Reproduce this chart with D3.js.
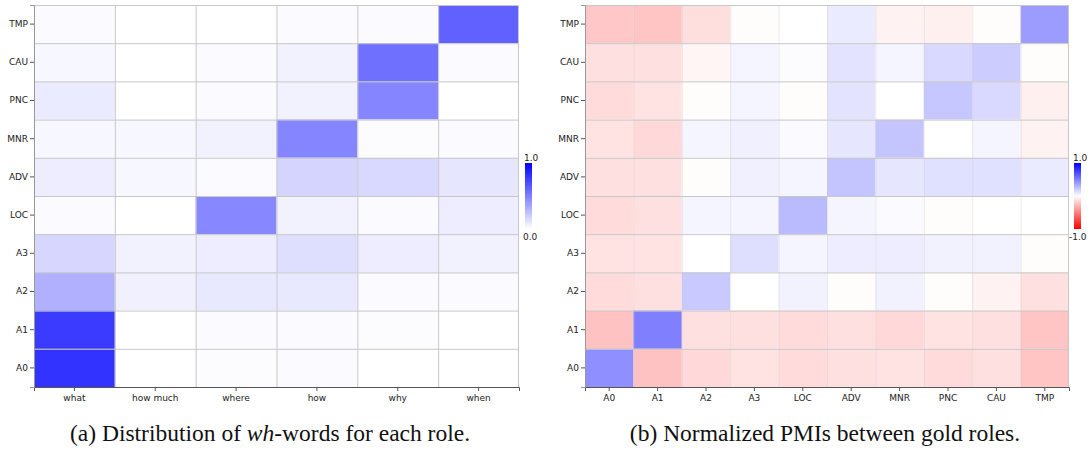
<!DOCTYPE html>
<html>
<head>
<meta charset="utf-8">
<script src="https://cdn.jsdelivr.net/npm/d3@7"></script>
<style>
  body { margin: 0; background: #fff; }
  .tick text { font-family: "DejaVu Sans", sans-serif; font-size: 9px; fill: #222; }
  .cb-label { font-family: "DejaVu Sans", sans-serif; font-size: 9px; fill: #222; }
</style>
</head>
<body>
<svg id="chart" width="1089" height="450"></svg>
<script>
// rows listed top to bottom as they appear
const roleRows = ["TMP", "CAU", "PNC", "MNR", "ADV", "LOC", "A3", "A2", "A1", "A0"];
const whWords = ["what", "how much", "where", "how", "why", "when"];
const goldRoles = ["A0", "A1", "A2", "A3", "LOC", "ADV", "MNR", "PNC", "CAU", "TMP"];

// (a) wh-word distribution, one row per role (same order as roleRows)
const whDist = [
  [0.02, 0.00, 0.00, 0.02, 0.02, 0.62],
  [0.03, 0.00, 0.02, 0.05, 0.56, 0.02],
  [0.08, 0.00, 0.02, 0.05, 0.48, 0.00],
  [0.03, 0.03, 0.05, 0.48, 0.01, 0.02],
  [0.07, 0.03, 0.02, 0.17, 0.15, 0.10],
  [0.02, 0.00, 0.47, 0.05, 0.02, 0.07],
  [0.16, 0.05, 0.07, 0.13, 0.07, 0.05],
  [0.31, 0.06, 0.09, 0.09, 0.02, 0.02],
  [0.77, 0.00, 0.02, 0.02, 0.01, 0.00],
  [0.80, 0.00, 0.01, 0.02, 0.00, 0.00]
];

// (b) normalized PMI, one row per role (same order as roleRows), columns = goldRoles
const npmi = [
  [-0.22, -0.23, -0.13, -0.01, 0.00, 0.08, -0.05, -0.06, -0.01, 0.39],
  [-0.12, -0.12, -0.04, 0.04, 0.01, 0.11, 0.04, 0.15, 0.20, -0.01],
  [-0.14, -0.11, -0.01, 0.04, -0.01, 0.11, 0.00, 0.22, 0.15, -0.06],
  [-0.11, -0.15, 0.04, 0.06, 0.02, 0.10, 0.23, 0.00, 0.04, -0.05],
  [-0.12, -0.12, -0.01, 0.06, 0.04, 0.23, 0.10, 0.12, 0.12, 0.08],
  [-0.14, -0.12, 0.04, 0.04, 0.27, 0.04, 0.02, -0.01, 0.00, 0.00],
  [-0.11, -0.11, 0.00, 0.13, 0.04, 0.07, 0.07, 0.05, 0.05, -0.01],
  [-0.14, -0.12, 0.21, 0.00, 0.05, -0.01, 0.05, -0.01, -0.05, -0.12],
  [-0.24, 0.50, -0.12, -0.12, -0.14, -0.12, -0.15, -0.11, -0.12, -0.23],
  [0.44, -0.24, -0.15, -0.11, -0.14, -0.12, -0.11, -0.14, -0.12, -0.23]
];

const svg = d3.select("#chart");
const defs = svg.append("defs");

function heatmap(opts) {
  const g = svg.append("g");
  const x = d3.scaleBand().domain(opts.cols).range([opts.x0, opts.x1]);
  const y = d3.scaleBand().domain(roleRows).range([opts.y0, opts.y1]);

  opts.data.forEach((row, i) => {
    g.selectAll(null)
      .data(row)
      .enter().append("rect")
      .attr("x", (d, j) => x(opts.cols[j]))
      .attr("y", y(roleRows[i]))
      .attr("width", x.bandwidth())
      .attr("height", y.bandwidth())
      .attr("fill", d => opts.color(d));
  });

  // grid lines
  g.selectAll("line.h")
    .data(roleRows)
    .enter().append("line")
    .attr("x1", opts.x0).attr("x2", opts.x1)
    .attr("y1", d => y(d) + 0.5).attr("y2", d => y(d) + 0.5)
    .attr("stroke", "#c8c8c8").attr("stroke-width", 1);
  g.selectAll("line.v")
    .data(opts.cols.slice(1).concat([null]))
    .enter().append("line")
    .attr("x1", d => d ? x(d) + 0.5 : opts.x1 - 0.5)
    .attr("x2", d => d ? x(d) + 0.5 : opts.x1 - 0.5)
    .attr("y1", opts.y0).attr("y2", opts.y1)
    .attr("stroke", d => d ? opts.vgrid : "#c8c8c8").attr("stroke-width", 1);

  const xAxis = g.append("g")
    .attr("transform", `translate(0, ${opts.y1})`)
    .call(d3.axisBottom(x).tickSize(4).tickPadding(4));
  const yAxis = g.append("g")
    .attr("transform", `translate(${opts.x0}, 0)`)
    .call(d3.axisLeft(y).tickSize(4).tickPadding(2));
  xAxis.select(".domain").attr("stroke", "#555");
  yAxis.select(".domain").attr("stroke", "#999");
  g.selectAll(".tick line").attr("stroke", "#555");

  // colour bar
  const gid = "grad" + opts.id;
  const grad = defs.append("linearGradient").attr("id", gid)
    .attr("x1", 0).attr("y1", 1).attr("x2", 0).attr("y2", 0);
  opts.stops.forEach(s => grad.append("stop")
    .attr("offset", s.o).attr("stop-color", s.c));
  g.append("rect")
    .attr("x", opts.cbx).attr("y", 163)
    .attr("width", 7).attr("height", 66)
    .attr("fill", `url(#${gid})`);
  g.append("text").attr("class", "cb-label")
    .attr("x", opts.cbx - 1).attr("y", 161).text(opts.cbTop);
  g.append("text").attr("class", "cb-label")
    .attr("x", opts.cbBotX).attr("y", 240).text(opts.cbBot);

  svg.append("text")
    .attr("font-family", "'Liberation Serif', 'Times New Roman', 'DejaVu Serif', serif")
    .attr("font-size", 23.5)
    .attr("fill", "#111")
    .attr("x", opts.capX).attr("y", 441)
    .attr("text-anchor", "middle")
    .html(opts.caption);
}

const blueScale = d3.scaleLinear().domain([0, 1]).range(["#ffffff", "#0000ff"]);
const divScale = d3.scaleLinear().domain([-1, 0, 1]).range(["#ff0000", "#ffffff", "#0000ff"]);

heatmap({
  id: "a", cols: whWords, data: whDist, color: blueScale,
  x0: 34, x1: 519, y0: 5, y1: 387, vgrid: "#c8c8c8",
  stops: [{o: 0, c: "#ffffff"}, {o: 1, c: "#0000ff"}],
  cbx: 525, cbTop: "1.0", cbBot: "0.0", cbBotX: 523,
  capX: 270,
  caption: '(a) Distribution of <tspan font-style="italic">wh</tspan>-words for each role.'
});

heatmap({
  id: "b", cols: goldRoles, data: npmi, color: divScale,
  x0: 585, x1: 1069, y0: 5, y1: 387, vgrid: "rgba(200,200,200,0.35)",
  stops: [{o: 0, c: "#ff0000"}, {o: 0.5, c: "#ffffff"}, {o: 1, c: "#0000ff"}],
  cbx: 1074, cbTop: "1.0", cbBot: "-1.0", cbBotX: 1069,
  capX: 825,
  caption: '(b) Normalized PMIs between gold roles.'
});
</script>
</body>
</html>
